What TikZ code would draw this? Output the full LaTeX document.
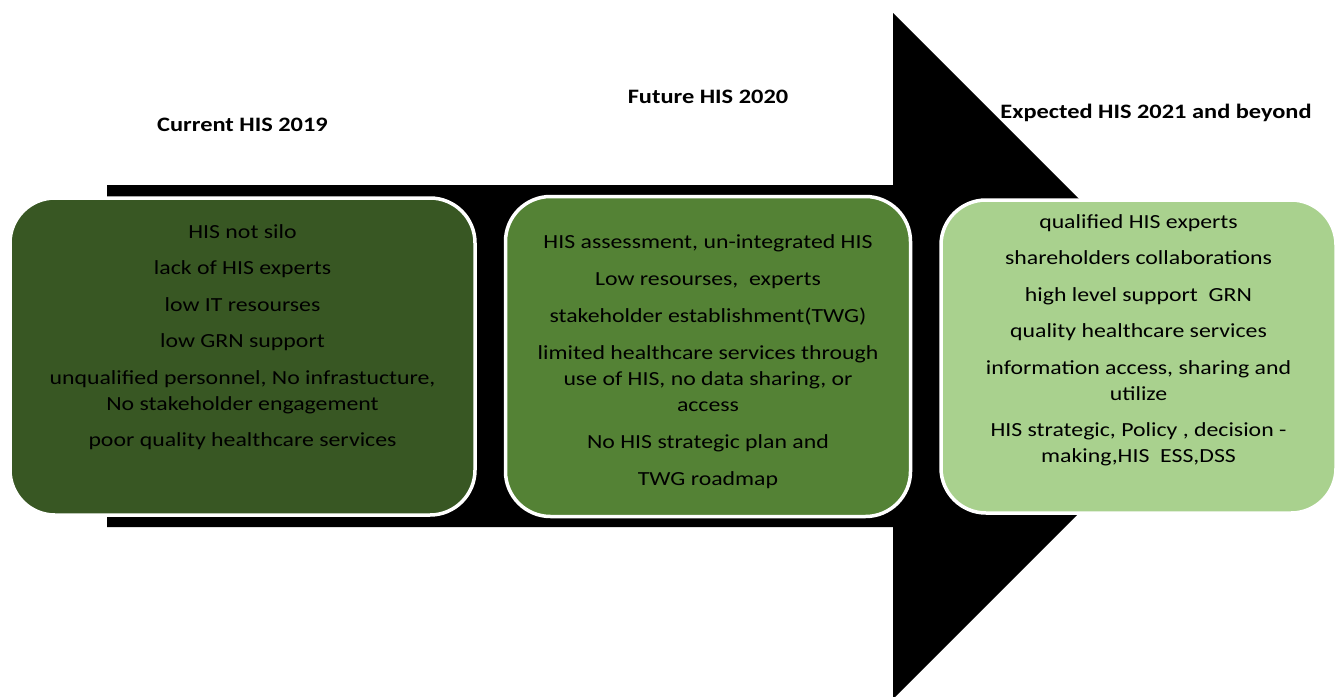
\documentclass[tikz,border=0pt]{standalone}
\usepackage{fontspec}
\setmainfont{Carlito}[FakeStretch=1.19]
\usetikzlibrary{positioning}
\definecolor{darkgrn}{HTML}{385723}
\definecolor{midgrn}{HTML}{548235}
\definecolor{lightgrn}{HTML}{A9D18E}

\begin{document}
\begin{tikzpicture}[x=1pt, y=-1pt, node distance={27pt},
  stage/.style={rectangle, rounded corners=45pt, draw=white, line width=3.5pt, minimum height=317pt, inner sep=0pt},
  txt/.style={align=center, inner sep=0pt, font=\fontsize{20}{26}\selectfont},
  head/.style={inner sep=0pt, font=\fontsize{20.5}{24}\selectfont\bfseries}]
  \useasboundingbox (0,0) rectangle (1338,696);

  \fill (107,185) -- (893,185) -- (893,13) -- (1236,356) -- (893,699) -- (893,527) -- (107,527) -- cycle;

  \node[stage, fill=darkgrn, minimum width=465pt] (cur) at (242.5,356.5) {};
  \node[stage, fill=midgrn, minimum width=405pt, minimum height=320pt] (fut) [right=of cur] {};
  \node[stage, fill=lightgrn, minimum width=395pt, minimum height=313pt] (exp) [right=of fut] {};

  \node[head] (curhead) [above=64pt of cur] {Current HIS 2019};
  \node[head] (futhead) [above=91pt of fut] {Future HIS 2020};
  \node[head] (exphead) [above=76pt of exp, xshift=17.5pt] {Expected HIS 2021 and beyond};

  \node[txt] (curtxt) [below=28pt of cur.north] {HIS not silo\\[10.5pt]
    lack of HIS experts\\[10.5pt]
    low IT resourses\\[10.5pt]
    low GRN support\\[10.5pt]
    unqualified personnel, No infrastucture,\\No stakeholder engagement\\[10.5pt]
    poor quality healthcare services};
  \node[txt] (futtxt) [below=40pt of fut.north] {HIS assessment, un-integrated HIS\\[11pt]
    Low resourses,~ experts\\[11pt]
    stakeholder establishment(TWG)\\[11pt]
    limited healthcare services through\\use of HIS, no data sharing, or\\access\\[11pt]
    No HIS strategic plan and\\[11pt]
    TWG roadmap};
  \node[txt] (exptxt) [below=16pt of exp.north] {qualified HIS experts\\[10.5pt]
    shareholders collaborations\\[10.5pt]
    high level support~ GRN\\[10.5pt]
    quality healthcare services\\[10.5pt]
    information access, sharing and\\utilize\\[10.5pt]
    HIS strategic, Policy , decision -\\making,HIS~ ESS,DSS};
\end{tikzpicture}
\end{document}
